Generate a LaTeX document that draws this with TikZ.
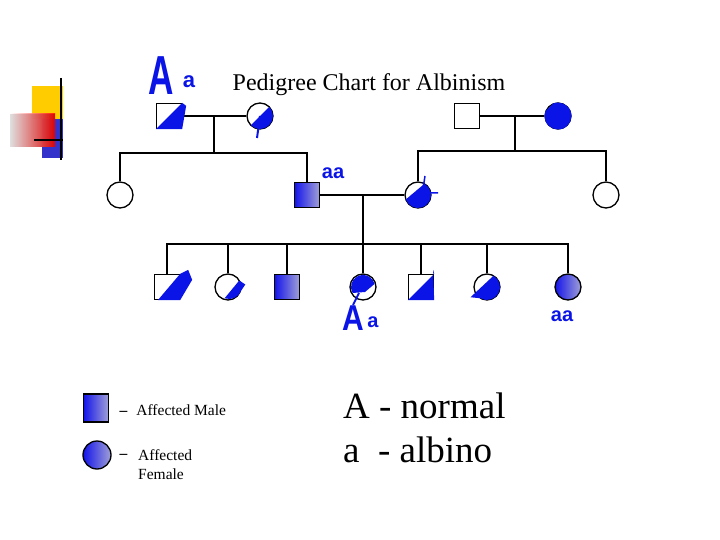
\documentclass[tikz,border=0pt]{standalone}
\usepackage{fontspec}
\setmainfont{Liberation Serif}
\newfontfamily\handfont{Liberation Sans}
\usepackage{xcolor}
\usetikzlibrary{positioning,calc}
\definecolor{affL}{RGB}{20,20,235}
\definecolor{affR}{RGB}{160,160,215}
\definecolor{ink}{RGB}{10,20,230}
\definecolor{deco yellow}{RGB}{255,204,0}
\definecolor{deco blue}{RGB}{51,51,204}
\tikzset{
  male/.style={draw, line width=1.3pt, minimum size=25pt, inner sep=0pt},
  female/.style={circle, draw, line width=1.3pt, minimum size=26pt, inner sep=0pt},
  affected/.style={left color=affL, right color=affR},
  link/.style={line width=1.6pt},
  pen/.style={ink, font=\handfont\bfseries},
}
\newcommand{\fs}[1]{\fontsize{#1}{#1}\selectfont}

\begin{document}
\begin{tikzpicture}[x=1pt, y=-1pt]
    \useasboundingbox (0,0) rectangle (720,540);
    % corner decoration
    \fill[deco yellow] (32,86) rectangle (63,119);
    \fill[deco blue] (42,119) rectangle (63,158);
    \fill[left color=white, right color=red, opacity=0.85] (10,114) rectangle (55,147);
    \draw[line width=2.4pt] (61,78) -- (61,160);
    \draw[line width=1.6pt] (34,140) -- (63,140);

    \node[font=\fs{24}] (title) at (369,85) {Pedigree Chart for Albinism};

    % generation I
    \node[male] (m1) at (169,116) {};
    \node[female] (f1) at (260,116) {};
    \node[male] (m3) at (467,116) {};
    \node[female] (f3) at (558,116) {};
    % generation II
    \node[female] (d1) at (120,195) {};
    \node[male, affected] (m2) at (307,195) {};
    \node[female] (f2) at (418,195) {};
    \node[female] (d2) at (606,195) {};
    % generation III
    \node[male] (k1) at (167,287) {};
    \node[female] (k2) at (228,287) {};
    \node[male, affected] (k3) at (287,287) {};
    \node[female] (k4) at (363,287) {};
    \node[male] (k5) at (421,287) {};
    \node[female] (k6) at (487,287) {};
    \node[female, affected] (k7) at (568,287) {};

    \coordinate (u1) at (214,116);
    \coordinate (s1) at (214,153);
    \coordinate (u2) at (515,116);
    \coordinate (s2) at (515,151);
    \coordinate (u3) at (363,195);
    \coordinate (s3) at (363,244);

    \draw[link] (m1) -- (f1);
    \draw[link] (u1) -- (s1);
    \draw[link] (d1) |- (s1) -| (m2);
    \draw[link] (m3) -- (f3);
    \draw[link] (u2) -- (s2);
    \draw[link, line width=2.2pt] (f2) |- (s2) -| (d2);
    \draw[link] (m2) -- (f2);
    \draw[link] (u3) -- (s3);
    \draw[link] (k1) |- (s3) -| (k7);
    \foreach \k in {k2,k3,k4,k5,k6}
        \draw[link] (\k) -- (\k |- s3);

    % hand-drawn carrier marks (angles run clockwise, y points down)
    \fill[ink] (m1.south west) -- (m1.north east) -- ++(4,3) -- (m1.south east) -- cycle;
    \fill[ink] ($(f1.center)+(-45:13)$) arc[start angle=-45, end angle=135, radius=13] -- cycle;
    \draw[ink, line width=2pt] (f1.center) -- ++(-3,22);
    \fill[ink] ($(f3.center)+(-110:13.5)$) arc[start angle=-110, end angle=200, radius=13.5] -- cycle;
    \fill[ink] ($(f2.center)+(-60:13)$) arc[start angle=-60, end angle=160, radius=13] -- cycle;
    \draw[ink, line width=1.5pt] (f2.center) ++(5,-6) -- ++(2,-13) (f2.center) ++(6,-2) -- ++(14,0);
    \fill[ink] (k1.south west) ++(4,0) -- (k1.north east) -- ++(8,-4) -- ++(4,10) -- (k1.south east) -- cycle;
    \fill[ink] ($(k2.center)+(-30:13)$) -- ++(6,4) -- ++(-4,6) arc[start angle=20, end angle=110, radius=13] -- cycle;
    \fill[ink] ($(k4.center)+(150:12)$) arc[start angle=150, end angle=345, radius=12] -- ($(k4.center)+(2,5)$) -- cycle;
    \draw[ink, line width=1.8pt] (k4.center) ++(-4,6) -- ++(-6,12);
    \fill[ink] (k5.south west) -- (k5.north east) -- ++(-1,-4) -- (k5.south east) -- cycle;
    \fill[ink] ($(k6.center)+(-60:13)$) arc[start angle=-60, end angle=120, radius=13] -- ++(-10,-1) -- cycle;

    % hand-written genotypes
    \node[pen, font=\handfont\bfseries\fs{44}, yscale=1.25, xscale=0.8] (gA) at (161,76) {A};
    \node[pen, font=\handfont\bfseries\fs{22}] (ga) at (189,82) {a};
    \node[pen, font=\handfont\bfseries\fs{20}] (g2) at (333,173) {aa};
    \node[pen, font=\handfont\bfseries\fs{30}, yscale=1.2] (gB) at (353,318) {A};
    \node[pen, font=\handfont\bfseries\fs{20}] (gb) at (373,322) {a};
    \node[pen, font=\handfont\bfseries\fs{20}] (g3) at (562,316) {aa};

    % legend
    \node[male, affected, minimum width=25pt, minimum height=28pt] (lm) at (96,408) {};
    \node[female, affected, minimum size=28pt] (lf) at (97,455) {};
    \node[anchor=west, font=\fs{15.5}] (tm) at (116,410) {\textbf{--}\hspace{9pt}Affected Male};
    \node[anchor=west, font=\fs{15.5}] (tf) at (116,456) {\textbf{--}};
    \node[anchor=north west, align=left, font=\fs{15.5}, inner sep=0pt] (tf2) at (138,449) {Affected\\[4pt]Female};

    \node[anchor=west, font=\fs{37}, inner sep=0pt] (keyA) at (343,406) {A - normal};
    \node[anchor=west, font=\fs{37}, inner sep=0pt] (keya) at (343,450) {a\ \ - albino};
\end{tikzpicture}
\end{document}
